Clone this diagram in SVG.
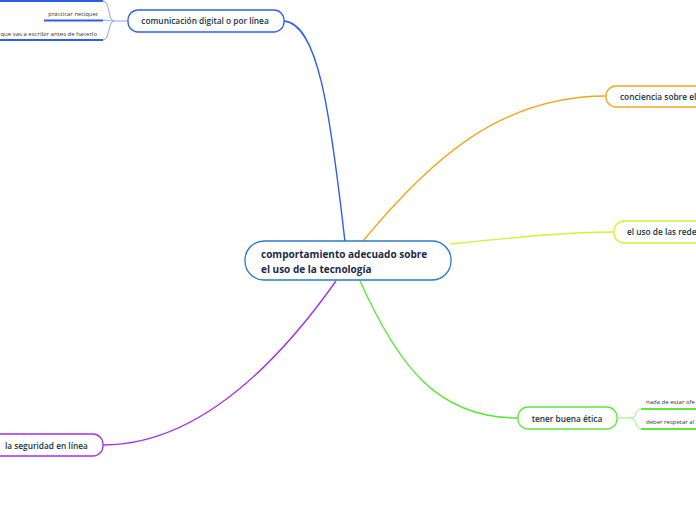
<svg xmlns="http://www.w3.org/2000/svg" width="696" height="520" viewBox="0 0 696 520">
<style>
.t{font-family:"Open Sans","Noto Sans","Liberation Sans",sans-serif;font-weight:600;fill:#17363a}
.m{font-family:"Open Sans","Noto Sans","Liberation Sans",sans-serif;font-weight:700;fill:#1a2b4a;font-size:10px}
.s{font-family:"Open Sans","Noto Sans","Liberation Sans",sans-serif;font-size:6px;fill:#333}
.c{fill:none;stroke-width:1.4}
.b{fill:#fff;stroke-width:1.3}
</style>
<rect width="696" height="520" fill="#fff"/>
<g id="connectors">
<path class="c" stroke="#2e5fe6" d="M284 21 C318 24 330 110 345 242"/>
<path class="c" stroke="#f7a51e" d="M363 241 C430 160 500 96 606 96"/>
<path class="c" stroke="#d6f037" d="M450 244 C530 236 570 232 614 232"/>
<path class="c" stroke="#5ee83a" d="M360 281 C400 370 440 418 518 418"/>
<path class="c" stroke="#a231ea" d="M336 281 C280 360 200 445 103 445"/>
<path fill="none" stroke="#87a6f2" stroke-width="1" d="M128 21 H114 C108 21 110 1 103 1 M114 21 C110 21 108 20 103 20 M114 21 C108 21 110 40 103 40"/>
<path fill="none" stroke="#8ef37a" stroke-width="1" d="M617 418 H631 C637 418 635 409 641 409 M631 418 C637 418 635 429 641 429"/>
</g>
<g id="center">
<rect class="b" x="245" y="241" width="206" height="39" rx="19" stroke="#2b7bc4"/>
<text class="m" x="261" y="258">comportamiento adecuado sobre</text>
<text class="m" x="261" y="273">el uso de la tecnología</text>
</g>
<g id="comunicacion">
<rect class="b" x="128" y="10" width="156" height="22" rx="10" stroke="#2e5fe6"/>
<text class="t" font-size="8.3" x="205" y="24" text-anchor="middle">comunicación digital o por línea</text>
</g>
<g id="top-item">
<line x1="0" y1="1" x2="103" y2="1" stroke="#2e5fe6" stroke-width="2"/>
</g>
<g id="netiquet">
<text class="s" x="98" y="16" text-anchor="end">prácticar netiquet</text>
<line x1="44" y1="20.5" x2="103" y2="20.5" stroke="#2e5fe6" stroke-width="2"/>
</g>
<g id="escribir">
<text class="s" x="97" y="36" text-anchor="end">que vas a escribir antes de hacerlo</text>
<line x1="0" y1="40" x2="103" y2="40" stroke="#2e5fe6" stroke-width="2"/>
</g>
<g id="conciencia">
<rect class="b" x="606" y="86" width="110" height="21" rx="10" stroke="#f7a51e"/>
<text class="t" font-size="8.3" x="620" y="100">conciencia sobre el</text>
</g>
<g id="redes">
<rect class="b" x="614" y="221" width="110" height="22" rx="10" stroke="#d6f037"/>
<text class="t" font-size="8.3" x="627" y="235">el uso de las rede</text>
</g>
<g id="etica">
<rect class="b" x="518" y="407" width="99" height="22" rx="10" stroke="#5ee83a"/>
<text class="t" font-size="8.3" x="567" y="422" text-anchor="middle">tener buena ética</text>
</g>
<g id="ofender">
<text class="s" x="646" y="404">nada de estar ofe</text>
<line x1="641" y1="409" x2="696" y2="409" stroke="#5ee83a" stroke-width="2"/>
</g>
<g id="respetar">
<text class="s" x="646" y="424">deber respetar al</text>
<line x1="641" y1="429" x2="696" y2="429" stroke="#5ee83a" stroke-width="2"/>
</g>
<g id="seguridad">
<rect class="b" x="-12" y="434" width="115" height="22" rx="10" stroke="#a231ea"/>
<text class="t" font-size="8.3" x="5" y="449">la seguridad en línea</text>
</g>
</svg>
